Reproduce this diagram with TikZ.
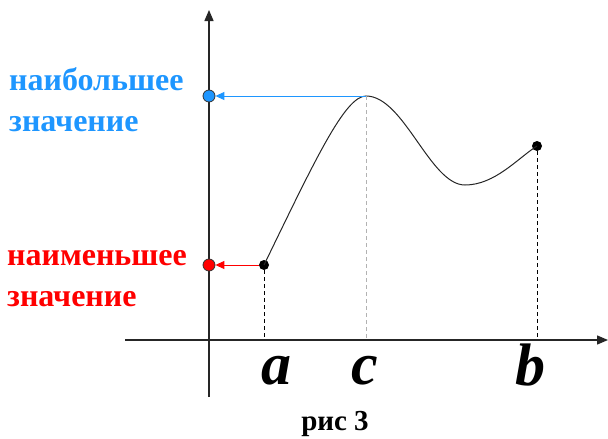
\documentclass[tikz,border=0pt]{standalone}
\usepackage{fontspec}
\setmainfont{Liberation Serif}
\usetikzlibrary{arrows.meta}
\definecolor{maxblue}{RGB}{30,150,255}
\definecolor{minred}{RGB}{255,0,0}
\tikzset{
  axisline/.style={line width=1.3pt, draw=black!85, -{Triangle[length=11pt,width=9pt]}},
  dot/.style={circle, fill=black, inner sep=0pt, minimum size=10pt},
  valdot/.style={circle, draw=black!80, line width=0.8pt, inner sep=0pt, minimum size=12pt},
  guide/.style={line width=0.9pt, dash pattern=on 4pt off 3pt},
  lbl/.style={font=\fontsize{32}{41}\selectfont\bfseries, align=left, anchor=west, inner sep=0pt},
  ptlbl/.style={font=\fontsize{60}{60}\selectfont\bfseries\itshape, inner sep=0pt, anchor=base},
  captxt/.style={font=\fontsize{29}{32}\selectfont\bfseries, inner sep=0pt, anchor=base}
}
\begin{document}
\begin{tikzpicture}[x=1pt,y=-1pt]
\useasboundingbox (0,0) rectangle (608,439);
% axes
\coordinate (yb) at (209,397);
\coordinate (yt) at (209,10);
\coordinate (xl) at (125,340);
\coordinate (xr) at (608,340);
\draw[axisline] (yb) -- (yt);
\draw[axisline] (xl) -- (xr);
% points
\node[dot] (A) at (264,265) {};
\node[dot] (B) at (537,146) {};
\coordinate (C) at (366,96);
\coordinate (Ax) at (264,340);
\coordinate (Bx) at (537,340);
\coordinate (Cx) at (366,340);
% curve
\draw[line width=1pt, black!85] (A.center) .. controls (315,160) and (345,96) .. (C)
  .. controls (404,96) and (430,185) .. (465,185)
  .. controls (495,185) and (518,158) .. (B.center);
% guides
\draw[guide, black] (A) -- (Ax);
\draw[guide, black] (B) -- (Bx);
\draw[guide, black!30] (C) -- (Cx);
% value dots
\node[valdot, fill=maxblue] (M) at (209,96) {};
\node[valdot, fill=minred] (m) at (209,265) {};
\draw[maxblue, line width=1pt, -{Triangle[length=9pt,width=8pt]}] (C) -- (M);
\draw[minred, line width=1pt, -{Triangle[length=9pt,width=8pt]}] (A) -- (m);
% labels
\node[lbl, text=maxblue] (Ml) at (9,100) {наибольшее\\значение};
\node[lbl, text=minred] (ml) at (7,279) {наименьшее\\значение};
\node[ptlbl] (la) at (276,384) {a};
\node[ptlbl] (lc) at (365,384) {c};
\node[ptlbl] (lb) at (530,385) {b};
\node[captxt] (cp) at (335,430) {рис 3};
\end{tikzpicture}
\end{document}
